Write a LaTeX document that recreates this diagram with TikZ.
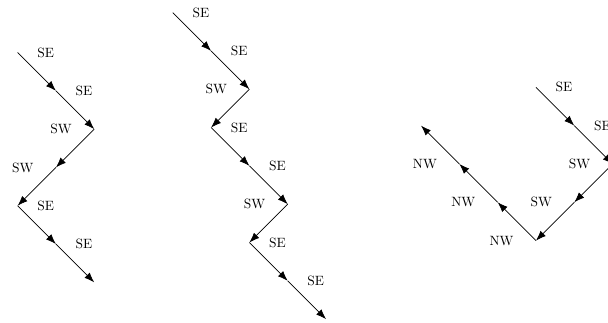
\documentclass[tikz,border=0pt]{standalone}
\usepackage{amsmath,amssymb}
\usetikzlibrary{arrows.meta}
\tikzset{ % Styles shared by the three walks
	move/.style={line width=0.5pt, -{Latex[length=7.5pt,width=5.5pt]}}, % One unit step with its head
	toE/.style={right=0.39cm}, % Direction label to the right of a step
	toW/.style={left=0.46cm} % Direction label to the left of a step
}

\begin{document}
\begin{tikzpicture}
			\useasboundingbox (0,0) rectangle (15.87,-8.41);
			% First walk
			\coordinate (a0) at (0.46,-1.37);
			\coordinate (a1) at (1.46,-2.37);
			\coordinate (a2) at (2.46,-3.37);
			\coordinate (a3) at (1.46,-4.37);
			\coordinate (a4) at (0.46,-5.37);
			\coordinate (a5) at (1.46,-6.37);
			\coordinate (a6) at (2.46,-7.37);
			\draw [move] (a0) node (la0) [toE] {SE} -- (a1);
			\draw [move] (a1) node (la1) [toE] {SE} -- (a2);
			\draw [move] (a2) node (la2) [toW] {SW} -- (a3);
			\draw [move] (a3) node (la3) [toW] {SW} -- (a4);
			\draw [move] (a4) node (la4) [toE] {SE} -- (a5);
			\draw [move] (a5) node (la5) [toE] {SE} -- (a6);
			% Second walk
			\coordinate (b0) at (4.51,-0.33);
			\coordinate (b1) at (5.51,-1.33);
			\coordinate (b2) at (6.51,-2.33);
			\coordinate (b3) at (5.51,-3.33);
			\coordinate (b4) at (6.51,-4.33);
			\coordinate (b5) at (7.51,-5.33);
			\coordinate (b6) at (6.51,-6.33);
			\coordinate (b7) at (7.51,-7.33);
			\coordinate (b8) at (8.51,-8.33);
			\draw [move] (b0) node (lb0) [toE] {SE} -- (b1);
			\draw [move] (b1) node (lb1) [toE] {SE} -- (b2);
			\draw [move] (b2) node (lb2) [toW] {SW} -- (b3);
			\draw [move] (b3) node (lb3) [toE] {SE} -- (b4);
			\draw [move] (b4) node (lb4) [toE] {SE} -- (b5);
			\draw [move] (b5) node (lb5) [toW] {SW} -- (b6);
			\draw [move] (b6) node (lb6) [toE] {SE} -- (b7);
			\draw [move] (b7) node (lb7) [toE] {SE} -- (b8);
			% Third walk, turning back to the north west
			\coordinate (c0) at (13.99,-2.28);
			\coordinate (c1) at (14.99,-3.28);
			\coordinate (c2) at (15.99,-4.28);
			\coordinate (c3) at (14.99,-5.28);
			\coordinate (c4) at (13.99,-6.28);
			\coordinate (c5) at (12.99,-5.28);
			\coordinate (c6) at (11.99,-4.28);
			\coordinate (c7) at (10.99,-3.28);
			\draw [move] (c0) node (lc0) [toE] {SE} -- (c1);
			\draw [move] (c1) node (lc1) [toE] {SE} -- (c2);
			\draw [move] (c2) node (lc2) [toW] {SW} -- (c3);
			\draw [move] (c3) node (lc3) [toW] {SW} -- (c4);
			\draw [move] (c4) node (lc4) [toW] {NW} -- (c5);
			\draw [move] (c5) node (lc5) [toW] {NW} -- (c6);
			\draw [move] (c6) node (lc6) [toW] {NW} -- (c7);
		\end{tikzpicture}
\end{document}
